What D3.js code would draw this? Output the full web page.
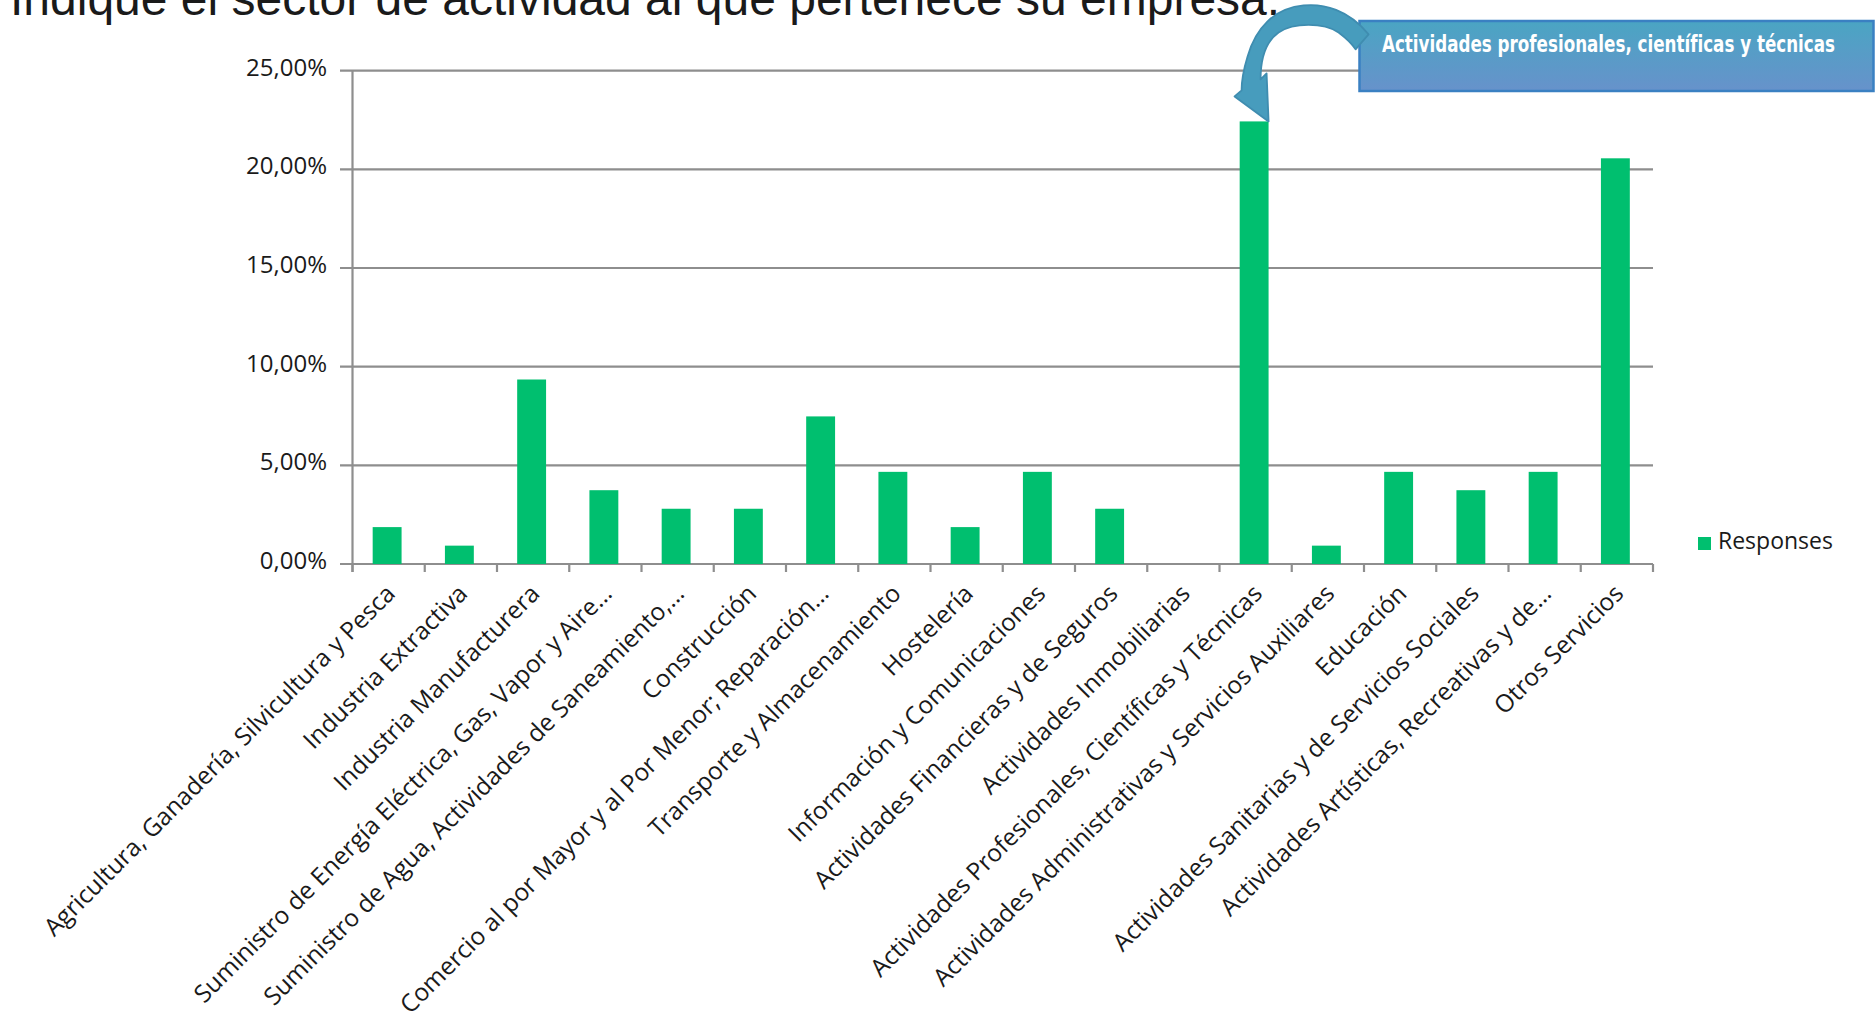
<!DOCTYPE html>
<html lang="es">
<head>
<meta charset="UTF-8">
<title>Sector de actividad</title>
<script src="https://d3js.org/d3.v7.min.js"></script>
<style>
  body { margin: 0; background: #fff; }
  text { font-family: 'Open Sans', 'DejaVu Sans', sans-serif; }
</style>
</head>
<body>
<script>
const width = 1875, height = 1024;

const title = "Indique el sector de actividad al que pertenece su empresa.";
const calloutText = "Actividades profesionales, científicas y técnicas";
const seriesName = "Responses";

const categories = [
  "Agricultura, Ganadería, Silvicultura y Pesca",
  "Industria Extractiva",
  "Industria Manufacturera",
  "Suministro de Energía Eléctrica, Gas, Vapor y Aire…",
  "Suministro de Agua, Actividades de Saneamiento,…",
  "Construcción",
  "Comercio al por Mayor y al Por Menor; Reparación…",
  "Transporte y Almacenamiento",
  "Hostelería",
  "Información y Comunicaciones",
  "Actividades Financieras y de Seguros",
  "Actividades Inmobiliarias",
  "Actividades Profesionales, Científicas y Técnicas",
  "Actividades Administrativas y Servicios Auxiliares",
  "Educación",
  "Actividades Sanitarias y de Servicios Sociales",
  "Actividades Artísticas, Recreativas y de…",
  "Otros Servicios"
];
// percentage of responses
const values = [1.87, 0.93, 9.35, 3.74, 2.80, 2.80, 7.48, 4.67, 1.87, 4.67, 2.80, 0, 22.43, 0.93, 4.67, 3.74, 4.67, 20.56];
const yTicks = [0, 5, 10, 15, 20, 25];
const highlighted = "Actividades Profesionales, Científicas y Técnicas";

const green = "#00bf6f";
const gridColor = "#8e8e8e";

const svg = d3.select("body").append("svg").attr("width", width).attr("height", height);

const defs = svg.append("defs");
const boxGrad = defs.append("linearGradient").attr("id", "boxGrad")
  .attr("x1", 0).attr("y1", 0).attr("x2", 0).attr("y2", 1);
boxGrad.append("stop").attr("offset", "0%").attr("stop-color", "#4aa5c3");
boxGrad.append("stop").attr("offset", "100%").attr("stop-color", "#6792cb");

const x = d3.scaleBand().domain(categories).range([352.5, 1653]).padding(0);
const y = d3.scaleLinear().domain([0, 25]).range([564, 70.7]);

const es = d3.formatLocale({decimal: ",", thousands: ".", grouping: [3], currency: ["", " €"]});
const fmt = d => es.format(".2f")(d) + "%";

// title (cut at the top, as in the slide)
svg.append("text")
  .attr("x", 10).attr("y", 15)
  .style("font-family", "'Liberation Sans', Arial, sans-serif")
  .attr("font-size", 48)
  .attr("fill", "#1a1a1a")
  .text(title);

// gridlines + y labels
const gy = svg.append("g");
gy.selectAll("line").data(yTicks).join("line")
  .attr("x1", 340).attr("x2", x.range()[1])
  .attr("y1", d => y(d)).attr("y2", d => y(d))
  .attr("stroke", gridColor).attr("stroke-width", 2.2);
gy.selectAll("text").data(yTicks).join("text")
  .attr("x", 327).attr("y", d => y(d) + 5)
  .attr("text-anchor", "end")
  .attr("font-size", 24)
  .attr("fill", "#1a1a1a")
  .text(fmt);

// axes lines
svg.append("line")
  .attr("x1", x.range()[0]).attr("x2", x.range()[0])
  .attr("y1", y(25)).attr("y2", y(0) + 8)
  .attr("stroke", gridColor).attr("stroke-width", 2.2);

const bounds = d3.range(categories.length + 1).map(i => x.range()[0] + i * x.step());
svg.append("g").selectAll("line").data(bounds).join("line")
  .attr("x1", d => d).attr("x2", d => d)
  .attr("y1", y(0)).attr("y2", y(0) + 8)
  .attr("stroke", gridColor).attr("stroke-width", 2.2);

// bars
const barW = x.bandwidth() * 0.4;
svg.append("g").selectAll("rect").data(values).join("rect")
  .attr("x", (d, i) => x(categories[i]) + (x.bandwidth() - barW) / 2 - 1.5)
  .attr("y", d => y(d))
  .attr("width", barW)
  .attr("height", d => y(0) - y(d))
  .attr("fill", green);

// category labels
svg.append("g").selectAll("text").data(categories).join("text")
  .attr("transform", d => "translate(" + [x(d) + x.bandwidth() / 2 + 2, y(0) + 25] + ") rotate(-45)")
  .attr("text-anchor", "end")
  .attr("dy", "0.35em")
  .attr("font-size", 24.5)
  .attr("fill", "#1a1a1a")
  .text(d => d);

// legend
svg.append("rect").attr("x", 1698).attr("y", 537).attr("width", 13).attr("height", 13).attr("fill", green);
svg.append("text").attr("x", 1718).attr("y", 548.5)
  .attr("font-size", 23).attr("fill", "#1a1a1a").text(seriesName);

// callout box
svg.append("rect")
  .attr("x", 1359.5).attr("y", 21).attr("width", 514).attr("height", 70)
  .attr("fill", "url(#boxGrad)")
  .attr("stroke", "#3a80c2").attr("stroke-width", 2.5);
svg.append("text")
  .attr("x", 1382).attr("y", 52)
  .style("font-family", "'Liberation Sans Narrow', 'DejaVu Sans Condensed', 'Roboto', sans-serif")
  .attr("font-weight", "bold")
  .attr("font-size", 23)
  .attr("fill", "#fff")
  .attr("textLength", 453)
  .attr("lengthAdjust", "spacingAndGlyphs")
  .text(calloutText);

// curved arrow pointing at the highlighted bar
const hi = categories.indexOf(highlighted);
const tipX = x(highlighted) + (x.bandwidth() + barW) / 2 - 1.5;
const tipY = y(values[hi]);
const arrowGrad = defs.append("linearGradient").attr("id", "arrowGrad")
  .attr("gradientUnits", "userSpaceOnUse")
  .attr("x1", 0).attr("y1", tipY - 115).attr("x2", 0).attr("y2", tipY);
arrowGrad.append("stop").attr("offset", "0%").attr("stop-color", "#479cbd");
arrowGrad.append("stop").attr("offset", "45%").attr("stop-color", "#4fb0d2");
arrowGrad.append("stop").attr("offset", "100%").attr("stop-color", "#60cdf2");

const arrowPath = "M100,-87 C80,-112 55,-118 35,-116 C5,-113 -13,-93 -21,-65 " +
  "C-25,-52 -27,-40 -27,-31 L-34,-25 L0,0 L-2,-48 L-8,-42 " +
  "C-8,-61 -4,-79 10,-89 C25,-99 55,-99 70,-89 C78,-83 84,-77 87,-72 Z";
svg.append("path")
  .attr("d", arrowPath)
  .attr("transform", "translate(" + [tipX, tipY] + ")")
  .attr("fill", "url(#arrowGrad)")
  .attr("stroke", "#3f8db0")
  .attr("stroke-width", 1.8)
  .attr("stroke-linejoin", "round");
</script>
</body>
</html>
